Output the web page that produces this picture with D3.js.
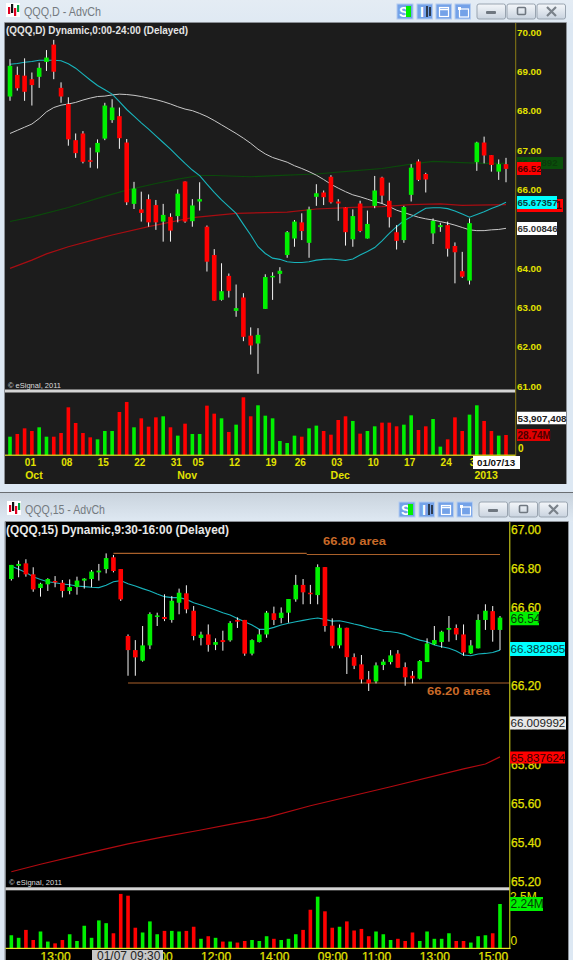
<!DOCTYPE html>
<html><head><meta charset="utf-8">
<script src="https://cdn.jsdelivr.net/npm/d3@7/dist/d3.min.js"></script>
<style>html,body{margin:0;padding:0;background:#dde8f3;overflow:hidden}svg{display:block}text{font-family:"Liberation Sans",Arial,sans-serif}</style>
</head><body><script>
// ---------- daily chart data ----------
const dailyOpen=[68.36,68.91,68.89,68.80,68.86,69.24,69.68,68.58,68.17,67.25,67.42,66.74,66.94,67.29,67.76,67.86,67.19,65.63,65.49,65.75,65.60,65.18,65.30,65.32,66.20,65.19,65.69,65.05,64.33,63.19,63.80,62.91,63.25,62.28,62.08,62.96,63.78,63.85,64.33,64.75,65.16,64.64,65.81,65.92,66.32,65.69,65.54,64.73,65.64,64.75,65.58,66.30,65.71,64.91,64.71,65.86,66.71,66.39,64.88,65.04,65.09,64.56,63.92,63.68,66.69,67.19,66.87,66.45,66.64];
const dailyHigh=[69.31,69.12,69.33,68.97,69.22,69.54,69.80,68.72,68.34,67.42,67.48,67.06,67.27,68.20,68.29,68.08,67.28,66.19,65.94,65.87,65.73,65.63,65.39,66.00,66.20,65.75,66.18,65.08,64.48,64.12,63.86,63.58,63.36,62.49,62.47,63.84,63.89,64.02,64.94,65.22,65.39,65.56,66.13,65.97,66.36,65.75,65.54,65.49,65.71,65.46,66.34,66.32,66.17,65.09,65.58,66.64,66.76,66.42,65.26,65.15,65.18,64.65,64.41,65.26,67.21,67.34,66.87,66.76,66.80];
const dailyLow=[68.25,68.51,68.25,68.13,68.58,69.01,68.80,68.20,67.11,66.80,66.66,66.55,66.53,67.25,67.69,67.03,65.60,65.50,65.18,65.05,64.97,64.67,64.67,65.16,65.15,65.05,65.46,63.91,63.17,63.17,63.25,62.76,62.14,61.80,61.31,62.96,63.19,63.61,64.26,64.54,64.71,64.26,65.58,65.60,65.64,65.20,64.57,64.54,64.91,64.75,65.52,65.64,65.03,64.47,64.64,65.69,66.21,65.92,64.61,64.92,64.29,63.61,63.75,63.58,66.47,66.66,66.45,66.24,66.18];
const dailyClose=[69.14,68.57,68.48,68.65,69.09,69.35,68.99,68.36,67.27,66.92,66.70,66.70,67.18,68.13,68.08,67.30,65.67,66.02,65.40,65.16,65.16,65.35,64.95,65.89,65.18,65.59,65.75,64.16,63.17,63.41,63.42,62.98,62.25,62.03,62.30,63.77,63.80,63.93,64.91,65.18,64.94,65.49,65.90,65.80,65.67,65.64,64.91,65.32,64.94,65.12,65.97,65.84,65.29,64.69,65.55,66.55,66.24,66.25,65.20,65.09,64.49,64.40,63.78,65.14,67.19,66.86,66.62,66.64,66.52];
const dailyVolume=[26.3,30.2,38.3,34.5,39.8,26.3,26.3,31.6,68.5,46.0,31.6,25.4,22.5,34.5,34.5,61.8,76.2,39.8,52.7,40.7,54.1,55.6,39.8,27.8,45.0,30.2,30.2,70.9,59.4,52.7,33.1,43.6,82.9,55.6,71.4,56.5,52.7,20.1,17.2,27.8,26.3,38.3,42.2,34.5,29.2,50.3,55.6,48.9,30.7,34.5,41.2,46.5,46.5,41.2,43.6,57.0,35.9,41.2,51.7,12.0,22.5,54.1,34.5,58.0,71.4,48.9,34.5,27.8,28.74];
const dailyCyan=[69.18,69.20,69.23,69.25,69.28,69.28,69.28,69.27,69.19,69.08,68.93,68.78,68.64,68.53,68.42,68.23,68.03,67.86,67.69,67.53,67.36,67.19,67.02,66.84,66.66,66.49,66.35,66.13,65.92,65.73,65.56,65.39,65.11,64.84,64.54,64.37,64.25,64.22,64.16,64.14,64.14,64.16,64.20,64.22,64.23,64.21,64.19,64.23,64.33,64.42,64.52,64.69,64.88,65.05,65.20,65.30,65.41,65.52,65.53,65.53,65.51,65.45,65.37,65.29,65.36,65.43,65.51,65.58,65.67357];
const dailyWhite=[67.42,67.50,67.58,67.66,67.80,67.97,68.08,68.14,68.17,68.21,68.27,68.32,68.36,68.37,68.40,68.42,68.41,68.39,68.36,68.32,68.28,68.23,68.17,68.10,68.04,68.00,67.93,67.85,67.75,67.64,67.53,67.42,67.30,67.17,67.02,66.90,66.81,66.75,66.69,66.60,66.53,66.45,66.36,66.25,66.13,66.03,65.94,65.86,65.81,65.75,65.69,65.64,65.56,65.47,65.41,65.35,65.29,65.25,65.22,65.18,65.14,65.09,65.03,64.97,64.95,64.95,64.97,64.98,65.00846];
const dailyGreenAt=[0,3,8,12,16,20,23,26,28,33,38,42,47,51,55,58,62,65,68];
const dailyGreen=[65.18,65.30,65.54,65.77,65.98,66.15,66.26,66.35,66.35,66.32,66.36,66.39,66.47,66.53,66.64,66.71,66.68,66.66,66.66];
const dailyRedAt=[0,3,5,8,12,14,19,25,31,38,42,47,51,55,59,62,68];
const dailyRed=[63.99,64.20,64.36,64.54,64.74,64.84,65.05,65.28,65.39,65.42,65.50,65.54,65.56,65.61,65.63,65.59,65.61];
const dailyPriceTicks=[61,62,63,64,65,66,67,68,69,70];
const dailyDayAt=[3,8,13,18,23,26,31,36,40,45,50,55,60,64];
const dailyDayLabels=["01","08","15","22","31","05","12","19","26","03","10","17","24","31"];
const dailyMonthAt=[3,24,45,65];
const dailyMonthLabels=["Oct","Nov","Dec","2013"];
// ---------- 15-minute chart data ----------
const minOpen=[66.746,66.813,66.826,66.770,66.700,66.719,66.736,66.727,66.685,66.705,66.738,66.746,66.780,66.797,66.857,66.797,66.455,66.383,66.329,66.407,66.552,66.552,66.537,66.625,66.673,66.584,66.445,66.463,66.410,66.434,66.433,66.537,66.537,66.365,66.424,66.463,66.571,66.547,66.574,66.642,66.716,66.676,66.664,66.807,66.508,66.407,66.497,66.347,66.310,66.233,66.223,66.307,66.322,66.365,66.296,66.252,66.237,66.322,66.412,66.424,66.487,66.496,66.463,66.366,66.392,66.537,66.582,66.486];
const minHigh=[66.818,66.840,66.847,66.806,66.727,66.750,66.761,66.741,66.744,66.758,66.750,66.792,66.823,66.877,66.869,66.797,66.463,66.434,66.506,66.576,66.574,66.668,66.659,66.697,66.714,66.608,66.477,66.514,66.443,66.482,66.531,66.550,66.537,66.438,66.489,66.583,66.605,66.601,66.644,66.767,66.746,66.716,66.821,66.807,66.545,66.514,66.497,66.366,66.358,66.276,66.320,66.336,66.383,66.383,66.320,66.276,66.332,66.443,66.506,66.482,66.557,66.514,66.514,66.434,66.566,66.617,66.608,66.557];
const minLow=[66.738,66.755,66.758,66.681,66.656,66.685,66.704,66.652,66.668,66.666,66.697,66.704,66.738,66.775,66.780,66.634,66.252,66.252,66.324,66.388,66.506,66.531,66.523,66.566,66.571,66.433,66.407,66.375,66.383,66.380,66.426,66.496,66.354,66.356,66.422,66.446,66.511,66.520,66.523,66.630,66.617,66.618,66.617,66.477,66.392,66.392,66.261,66.286,66.213,66.174,66.213,66.281,66.310,66.293,66.201,66.213,66.233,66.322,66.409,66.395,66.426,66.434,66.354,66.363,66.392,66.486,66.426,66.383];
const minClose=[66.818,66.823,66.770,66.693,66.722,66.746,66.729,66.685,66.705,66.738,66.748,66.784,66.789,66.853,66.787,66.642,66.383,66.346,66.407,66.567,66.560,66.542,66.635,66.676,66.591,66.455,66.462,66.410,66.424,66.424,66.521,66.528,66.365,66.434,66.463,66.574,66.537,66.574,66.644,66.716,66.678,66.669,66.807,66.506,66.405,66.497,66.347,66.303,66.233,66.213,66.305,66.324,66.356,66.293,66.244,66.238,66.327,66.417,66.434,66.477,66.496,66.463,66.371,66.407,66.537,66.584,66.486,66.549];
const minVolume=[.66,.53,.93,.42,.85,.34,.25,.42,.71,.37,1.14,.53,1.41,1.27,.76,2.75,2.66,1.04,.80,1.36,.71,.88,.88,.85,.88,1.09,.48,.61,.53,.34,.34,.29,.37,.42,.37,.61,.48,.42,.48,.71,.93,1.95,2.61,1.87,1.04,1.09,1.36,.90,.98,.61,.85,.71,.42,.48,.37,.80,.37,.85,.48,.48,.76,.37,.37,.29,.61,.66,.76,2.24];
const minCyan=[66.813,66.796,66.779,66.758,66.744,66.732,66.727,66.721,66.717,66.710,66.707,66.704,66.702,66.714,66.732,66.738,66.722,66.710,66.697,66.685,66.669,66.656,66.651,66.651,66.642,66.625,66.613,66.601,66.588,66.574,66.562,66.545,66.528,66.511,66.489,66.489,66.499,66.511,66.520,66.528,66.535,66.542,66.547,66.540,66.531,66.533,66.525,66.516,66.508,66.497,66.489,66.479,66.477,66.472,66.462,66.446,66.434,66.426,66.409,66.400,66.392,66.378,66.358,66.354,66.363,66.366,66.371,66.382895];
const minRedAt=[0,4,10,16,21,26,30,35,41,52,62,65,67];
const minRed=[65.251,65.289,65.342,65.393,65.430,65.464,65.493,65.527,65.588,65.685,65.776,65.801,65.837624];
const resistAt=[14,40.5,40.5,67];
const resistVal=[66.877,66.877,66.871,66.871];
const supportAt=[16,68.3];
const supportVal=[66.215,66.215];
const minPriceTicks=[65.2,65.4,65.6,65.8,66.0,66.2,66.4,66.6,66.8,67.0];
const minTimeAt=[6,20,28,36,44,50,58,66];
const minTimeLabels=["13:00","10:00","12:00","14:00","09:00","11:00","13:00","15:00"];
// ---------- drawing ----------
const W=573,H=960;
const RED="#ff0000",GREEN="#00f000",YEL="#e2e200";
const svg=d3.select("body").append("svg").attr("width",W).attr("height",H);
const defs=svg.append("defs");
function grad(id,a,b){const g=defs.append("linearGradient").attr("id",id).attr("x1",0).attr("x2",0).attr("y1",0).attr("y2",1);
 g.append("stop").attr("offset",0).attr("stop-color",a);g.append("stop").attr("offset",1).attr("stop-color",b);}
grad("t1","#e4ecf4","#dfe9f3");grad("t2","#c9d3dd","#dfe9f3");grad("b","#f4f7fa","#c9d3df");
svg.append("rect").attr("width",W).attr("height",H).attr("fill","#dde8f3");

function chrome(top,h,px,py,pw,ph,panelFill,fill,title,tx,ty,dx,dy,tlen){
 svg.append("rect").attr("x",0).attr("y",top).attr("width",W).attr("height",h).attr("fill",fill);
 svg.append("rect").attr("x",px).attr("y",py).attr("width",pw).attr("height",ph).attr("fill",panelFill);
 svg.append("path").attr("d",`M${px-.5},${py+ph}V${py-.5}H${px+pw+.5}V${py+ph}`).attr("fill","none").attr("stroke","#8a8f95");
 svg.append("text").attr("x",tx).attr("y",ty).attr("font-size",12).attr("fill","#747a80").attr("textLength",tlen).attr("lengthAdjust","spacingAndGlyphs").text(title);
 const ic=svg.append("g").attr("transform",`translate(${tx-18},${ty-13})`);
 ic.append("rect").attr("width",14).attr("height",14).attr("fill","#fff");
 [[2,4,7,"#e00020"],[5,1,9,"#111"],[8,5,8,"#e00020"],[11,2,7,"#00a040"]].forEach(d=>ic.append("rect").attr("x",d[0]).attr("y",d[1]).attr("width",2.2).attr("height",d[2]).attr("fill",d[3]));
 const g=svg.append("g").attr("transform",`translate(${dx},${dy})`);
 [397,417,436,455].forEach(x=>g.append("rect").attr("x",x).attr("y",0).attr("width",x==397?16:15.5).attr("height",15).attr("fill","#74a2e8").attr("stroke","#b4ccf0"));
 g.append("text").attr("x",399).attr("y",12.5).attr("font-size",14).attr("font-weight","bold").attr("fill","#fff").text("S");
 g.append("rect").attr("x",406).attr("y",2).attr("width",5).attr("height",11).attr("fill",GREEN);
 g.append("text").attr("x",420).attr("y",12.5).attr("font-size",14).attr("font-weight","bold").attr("fill","#fff").text("I");
 g.append("path").attr("d","M427,2V13M430,3V12").attr("stroke","#111").attr("stroke-width",1.4);
 g.append("rect").attr("x",439.5).attr("y",3.5).attr("width",9).attr("height",9).attr("fill","none").attr("stroke","#fff").attr("stroke-width",1.2);
 g.append("path").attr("d","M439.5,5.5H448.5").attr("stroke","#fff").attr("stroke-width",1.5);
 g.append("rect").attr("x",459.5).attr("y",5).attr("width",9).attr("height",8).attr("fill","none").attr("stroke","#fff").attr("stroke-width",1.2);
 g.append("rect").attr("x",458).attr("y",3).attr("width",3).attr("height",3).attr("fill","#fff");
 [[477,28.5],[507,28.5],[537,28.5]].forEach(d=>g.append("rect").attr("x",d[0]).attr("y",0).attr("width",d[1]).attr("height",15).attr("rx",2).attr("fill","url(#b)").attr("stroke","#99a4b0"));
 g.append("rect").attr("x",486).attr("y",7).attr("width",10).attr("height",3).attr("rx",1).attr("fill","#6f7780");
 g.append("rect").attr("x",517.5).attr("y",3.5).attr("width",8).attr("height",7).attr("rx",1).attr("fill","none").attr("stroke","#6f7780").attr("stroke-width",1.6);
 g.append("path").attr("d","M547,3L556,12M556,3L547,12").attr("stroke","#7a828a").attr("stroke-width",2.2);
}
chrome(0,23,5,23,561,461,"#1c1c1c","url(#t1)","QQQ,D - AdvCh",24,16,0,4,77);
svg.append("rect").attr("x",0).attr("y",492).attr("width",W).attr("height",1.5).attr("fill","#6a6e72");
chrome(493,29,5.5,522,562.5,438,"#000000","url(#t2)","QQQ,15 - AdvCh",25,514,2,502,80);

function ohlc(o,h,l,c){return o.map((v,i)=>({i,o:v,h:h[i],l:l[i],c:c[i]}));}
function lineThrough(g,x,y,at,val,color,w){
 const ln=d3.line().x(d=>x(d[0])).y(d=>y(d[1]));
 g.append("path").attr("d",ln(val.map((v,k)=>[at?at[k]:k,v]))).attr("fill","none").attr("stroke",color).attr("stroke-width",w);
}
function candles(g,x,y,rows,bw){
 g.selectAll(null).data(rows).join("line").attr("x1",d=>x(d.i)).attr("x2",d=>x(d.i)).attr("y1",d=>y(d.h)).attr("y2",d=>y(d.l)).attr("stroke","#f4f4f4").attr("stroke-width",1);
 g.selectAll(null).data(rows).join("rect").attr("x",d=>x(d.i)-bw/2).attr("width",bw)
  .attr("y",d=>y(Math.max(d.o,d.c))).attr("height",d=>Math.max(1.5,Math.abs(y(d.o)-y(d.c))))
  .attr("fill",d=>d.c>=d.o?GREEN:RED);
}
function volumes(g,x,v,rows,vol,bw){
 g.selectAll(null).data(rows).join("rect").attr("x",d=>x(d.i)-bw/2).attr("width",bw)
  .attr("y",d=>v(vol[d.i])).attr("height",d=>v(0)-v(vol[d.i])).attr("fill",d=>d.c>=d.o?GREEN:RED);
}
function priceAxis(x0,y,ticks,fs,fw,sw){
 const a=svg.append("g").attr("transform",`translate(${x0},0)`).call(d3.axisRight(y).tickValues(ticks).tickSize(0).tickPadding(1).tickFormat(d3.format(".2f")));
 a.select(".domain").remove();
 a.selectAll("text").attr("fill",YEL).attr("stroke",YEL).attr("stroke-width",sw).attr("font-size",fs).attr("font-weight",fw).attr("font-family",'"Liberation Sans",Arial,sans-serif');
}
function tag(x0,w,cy,h,fill,color,txt,fs,fw,pad=0.5){
 svg.append("rect").attr("x",x0).attr("y",cy-h/2).attr("width",w).attr("height",h).attr("fill",fill);
 svg.append("text").attr("x",x0+pad).attr("y",cy).attr("dy",".36em").attr("font-size",fs).attr("font-weight",fw).attr("fill",color).text(txt);
}
function timeAxis(x,at,labels,yPos,off,fs,fw,sw){
 const s=d3.scaleLinear().domain(x.domain()).range(x.range().map(r=>r+off));
 const a=svg.append("g").attr("transform",`translate(0,${yPos})`).call(d3.axisBottom(s).tickValues(at).tickSize(0).tickPadding(0).tickFormat((d,k)=>labels[k]));
 a.select(".domain").remove();
 a.selectAll("text").attr("fill",YEL).attr("stroke",YEL).attr("stroke-width",sw).attr("font-size",fs).attr("font-weight",fw).attr("font-family",'"Liberation Sans",Arial,sans-serif').attr("y",0).attr("dy",".36em");
}

// ---- daily ----
const x1=d3.scaleLinear().domain([0,68]).range([10,506]);
const y1=d3.scaleLinear().domain([61,70]).range([386,32]);
const v1=d3.scaleLinear().domain([0,100]).range([455,385.4]);
const rows1=ohlc(dailyOpen,dailyHigh,dailyLow,dailyClose);
const g1=svg.append("g");
lineThrough(g1,x1,y1,dailyGreenAt,dailyGreen,"#0b4a0b",1.1);
lineThrough(g1,x1,y1,dailyRedAt,dailyRed,"#a80d12",1.2);
lineThrough(g1,x1,y1,null,dailyWhite,"#c8c8c8",1);
lineThrough(g1,x1,y1,null,dailyCyan,"#18b4bc",1.1);
candles(g1,x1,y1,rows1,4.6);
volumes(g1,x1,v1,rows1,dailyVolume,3.6);
svg.append("rect").attr("x",5).attr("y",389.5).attr("width",510.5).attr("height",3).attr("fill","#d4d4d4");
svg.append("rect").attr("x",5).attr("y",454.6).attr("width",511).attr("height",1.2).attr("fill","#e6e620");
svg.append("rect").attr("x",515.2).attr("y",23).attr("width",1).attr("height",433).attr("fill","#8a7c14");
svg.append("text").attr("x",8).attr("y",388).attr("font-size",7.5).attr("fill","#dcdcdc").text("© eSignal, 2011");
svg.append("text").attr("x",6).attr("y",34).attr("font-size",10.5).attr("font-weight","bold").attr("fill","#e4e4e4").attr("textLength",182).attr("lengthAdjust","spacingAndGlyphs").text("(QQQ,D) Dynamic,0:00-24:00 (Delayed)");
priceAxis(516,y1,dailyPriceTicks,9.8,"bold",0);
timeAxis(x1,dailyDayAt,dailyDayLabels,462,-2,10,"bold",0);
timeAxis(x1,dailyMonthAt,dailyMonthLabels,475,1.5,10.5,"bold",0);
tag(517,46,163,12,"#0a4f0a","#0b3a0b","66.66892",9.6,"bold");
tag(517,24,168.5,13,RED,"#4a0000","66.52",9.6,"bold");
tag(517,46,205.5,13,RED,"#400000","65.61061",10.6,"bold");
tag(517,40,202.5,13,"#00ffff","#0a3a3a","65.67357",9.6,"bold");
tag(517,40,228.5,13,"#ffffff","#333","65.00846",9.6,"bold");
tag(517,49,418,12.5,"#ffffff","#222","53,907,408",9.8,"bold");
tag(517,33,435,12,"#e00000","#4a0000","28.74M",10,"bold");
svg.append("text").attr("x",518).attr("y",448).attr("dy",".36em").attr("font-size",10).attr("font-weight","bold").attr("fill",YEL).text("0");
tag(473,47,462.5,13,"#ffffff","#111","01/07/13",9.8,"bold",4);

// ---- 15 minute ----
const x2=d3.scaleLinear().domain([0,67]).range([11.33,500]);
const y2=d3.scaleLinear().domain([65.2,67]).range([881.7,529.3]);
const v2=d3.scaleLinear().domain([0,2.24]).range([948.3,904]);
const rows2=ohlc(minOpen,minHigh,minLow,minClose);
const g2=svg.append("g");
lineThrough(g2,x2,y2,minRedAt,minRed,"#b00a10",1.2);
lineThrough(g2,x2,y2,null,minCyan,"#18b4bc",1.1);
lineThrough(g2,x2,y2,resistAt.slice(0,2),resistVal.slice(0,2),"#a9602a",1.1);
lineThrough(g2,x2,y2,resistAt.slice(2),resistVal.slice(2),"#a9602a",1.1);
lineThrough(g2,x2,y2,supportAt,supportVal,"#a9602a",1.1);
candles(g2,x2,y2,rows2,4.6);
volumes(g2,x2,v2,rows2,minVolume,3.6);
svg.append("rect").attr("x",5.5).attr("y",887.3).attr("width",504).attr("height",3).attr("fill","#d4d4d4");
svg.append("rect").attr("x",5.5).attr("y",947.8).attr("width",505).attr("height",1.2).attr("fill","#e6e620");
svg.append("rect").attr("x",509.3).attr("y",522).attr("width",1).attr("height",427).attr("fill","#e6e620");
svg.append("text").attr("x",9).attr("y",885).attr("font-size",7.5).attr("fill","#dcdcdc").text("© eSignal, 2011");
svg.append("text").attr("x",6).attr("y",534).attr("font-size",12).attr("font-weight","bold").attr("fill","#e8e8e8").attr("textLength",223).attr("lengthAdjust","spacingAndGlyphs").text("(QQQ,15) Dynamic,9:30-16:00 (Delayed)");
[["66.80 area",323,544.5],["66.20 area",427,695]].forEach(d=>svg.append("text").attr("x",d[1]).attr("y",d[2]).attr("font-family","'DejaVu Sans'").attr("font-size",10.5).attr("font-weight","bold").attr("fill","#c96a28").attr("textLength",63).attr("lengthAdjust","spacingAndGlyphs").text(d[0]));
priceAxis(510,y2,minPriceTicks,12,"normal",0.25);
timeAxis(x2,minTimeAt,minTimeLabels,956.5,0,12,"normal",0.25);
svg.append("text").attr("x",510).attr("y",897).attr("dy",".36em").attr("font-size",12).attr("fill",YEL).text("2.5M");
tag(510,33,904,14,GREEN,"#063a06","2.24M",12,"normal");
svg.append("text").attr("x",510.5).attr("y",941).attr("dy",".36em").attr("font-size",12).attr("fill",YEL).text("0");
tag(510,29,618.5,13.5,GREEN,"#063a06","66.54",12,"normal");
tag(510,55,649,14,"#00ffff","#063a3a","66.382895",11.6,"normal");
tag(510,56,723,13,"#e8e8e8","#222","66.009992",11.6,"normal");
tag(510,55,757.5,12,RED,"#300000","65.837624",11.6,"normal");
tag(92,71,955.5,11,"#c8c8c8","#222","01/07 09:30",12,"normal",5);
</script></body></html>
